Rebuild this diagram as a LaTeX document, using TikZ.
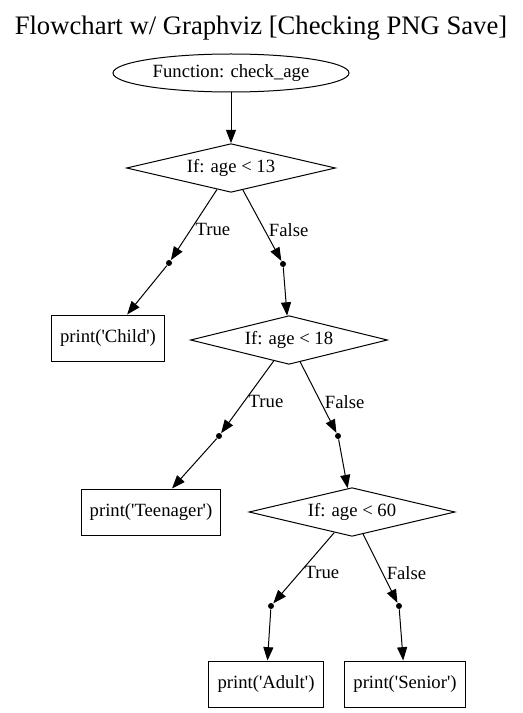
\documentclass[tikz,border=0pt]{standalone}
\usepackage{fontspec}
\setmainfont{Liberation Serif}
\usetikzlibrary{shapes.geometric,arrows.meta}
\newcommand{\sq}{\textquotesingle}
\tikzset{
	box/.style={draw, rectangle, minimum height=34.5pt, inner xsep=6.5pt},
	cond/.style={draw, diamond, aspect=4.3, inner sep=0pt, minimum height=36.5pt},
	pnt/.style={circle, fill=black, inner sep=0pt, minimum size=4.5pt},
	elabel/.style={right, inner sep=3pt, pos=0.56},
	flow/.style={-{Triangle[length=10pt,width=7.5pt]}}
}
\begin{document}
\begin{tikzpicture}[x=0.75pt, y=-0.75pt, line width=0.75pt, font=\fontsize{14}{16}\selectfont]
		\useasboundingbox (0,0) rectangle (522,713);
		\node (title) at (261,28) {\fontsize{20}{24}\selectfont Flowchart w/ Graphviz [Checking PNG Save]};
		\node [draw, ellipse, minimum width=177pt, minimum height=28.5pt] (func) at (231,73) {Function: check\_age};
		% first test
		\node [cond, minimum width=156.75pt] (if13) at (231,168) {If: age < 13};
		\node [pnt] (p13t) at (169,263) {};
		\node [pnt] (p13f) at (283,264) {};
		\node [box] (child) at (108,338) {print(\sq Child\sq)};
		% second test
		\node [cond, minimum width=147.75pt] (if18) at (289,340) {If: age < 18};
		\node [pnt] (p18t) at (219,436) {};
		\node [pnt] (p18f) at (338,436) {};
		\node [box] (teen) at (151,512) {print(\sq Teenager\sq)};
		% third test
		\node [cond, minimum width=154.5pt] (if60) at (352,512) {If: age < 60};
		\node [pnt] (p60t) at (271,606) {};
		\node [pnt] (p60f) at (399,606) {};
		\node [box] (adult) at (266,684) {print(\sq Adult\sq)};
		\node [box] (senior) at (405,684) {print(\sq Senior\sq)};
		\draw [flow] (func) -- (if13);
		\draw [flow] (if13) -- node [elabel] {True} (p13t);
		\draw [flow] (if13) -- node [elabel] {False} (p13f);
		\draw [flow] (p13t) -- (child);
		\draw [flow] (p13f) -- (if18);
		\draw [flow] (if18) -- node [elabel] {True} (p18t);
		\draw [flow] (if18) -- node [elabel] {False} (p18f);
		\draw [flow] (p18t) -- (teen);
		\draw [flow] (p18f) -- (if60);
		\draw [flow] (if60) -- node [elabel] {True} (p60t);
		\draw [flow] (if60) -- node [elabel] {False} (p60f);
		\draw [flow] (p60t) -- (adult);
		\draw [flow] (p60f) -- (senior);
\end{tikzpicture}
\end{document}
